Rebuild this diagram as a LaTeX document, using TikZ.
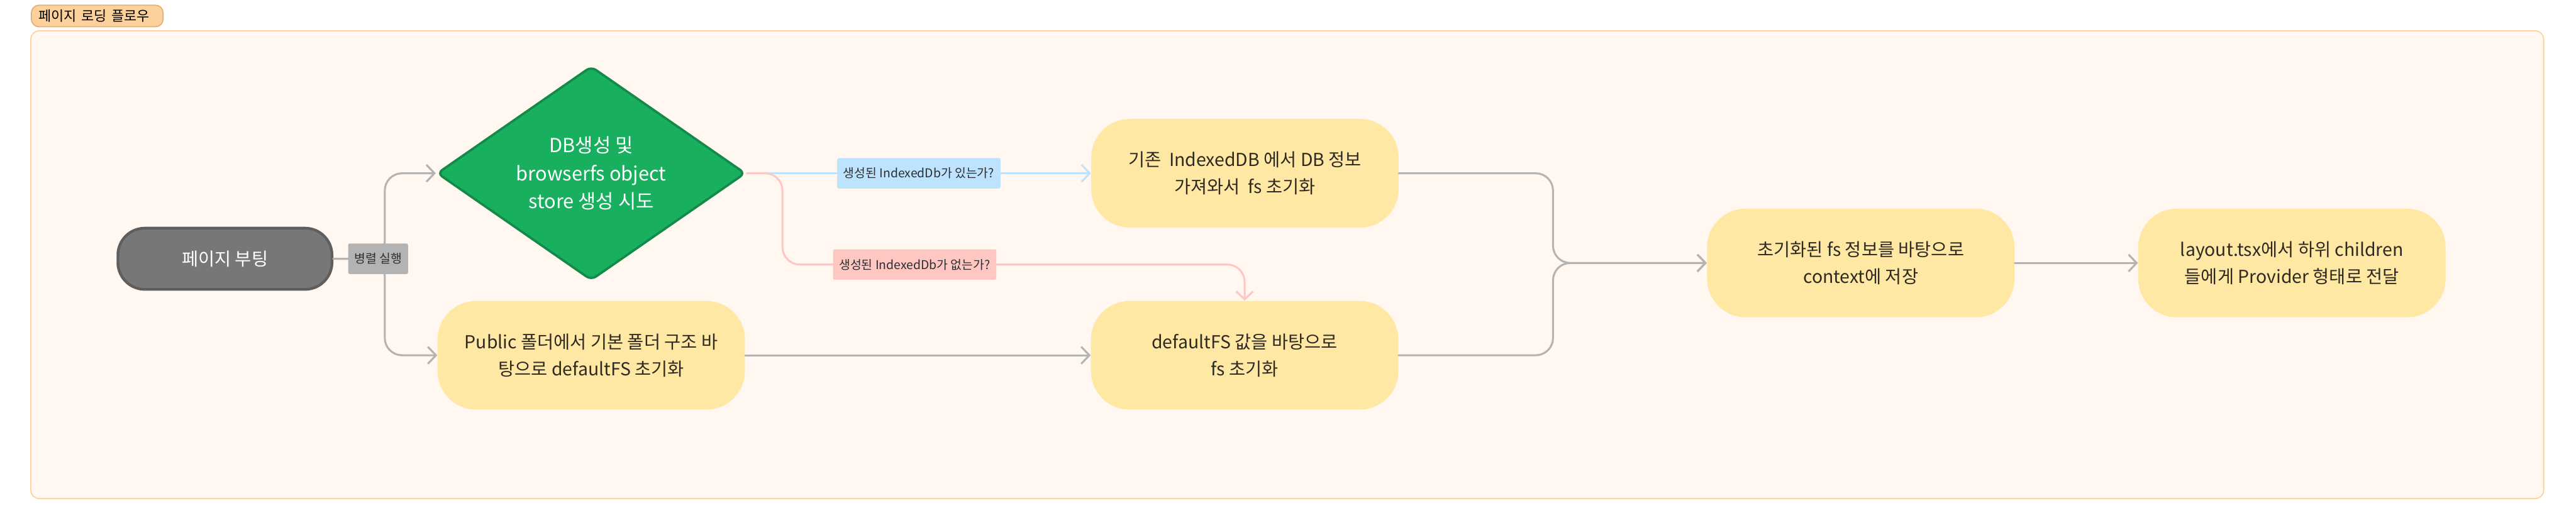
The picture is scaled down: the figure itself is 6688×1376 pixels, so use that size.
\documentclass[tikz,border=0pt]{standalone}
\usepackage{fontspec}
\setmainfont{Noto Sans CJK KR}
\usepackage{tikz}
\usetikzlibrary{arrows.meta,positioning,shapes.geometric,backgrounds}

\definecolor{panelfill}{HTML}{FFF7F0}
\definecolor{paneldraw}{HTML}{FDD49E}
\definecolor{tagfill}{HTML}{FCD19C}
\definecolor{tagdraw}{HTML}{DDB37F}
\definecolor{procfill}{HTML}{FFE8A3}
\definecolor{proctext}{HTML}{2E2A22}
\definecolor{bootfill}{HTML}{777777}
\definecolor{bootdraw}{HTML}{5E5E5E}
\definecolor{dbfill}{HTML}{18AF5E}
\definecolor{dbdraw}{HTML}{138A49}
\definecolor{wire}{HTML}{B3B3B3}
\definecolor{yeswire}{HTML}{BDE3FF}
\definecolor{nowire}{HTML}{FFC7C2}
\definecolor{lbltext}{HTML}{2B2F33}

\begin{document}
\begin{tikzpicture}[
  x=0.1mm, y=-0.1mm,
  font=\fontsize{13.2pt}{20.2pt}\selectfont,
  proc/.style  ={rectangle, rounded corners=10mm, fill=procfill, text=proctext,
                 minimum width=79.8mm, minimum height=28.2mm, inner sep=0pt, align=center},
  start/.style ={rectangle, rounded corners=7mm, draw=bootdraw, line width=0.7mm, fill=bootfill,
                 text=white, minimum width=55.6mm, minimum height=15.9mm, align=center},
  decide/.style={diamond, aspect=1.43, draw=dbdraw, line width=0.6mm, fill=dbfill, text=white,
                 minimum width=80.1mm, minimum height=55.6mm, inner sep=0pt, align=center,
                 rounded corners=1.5mm, font=\fontsize{14.3pt}{20.5pt}\selectfont},
  flow/.style  ={-{Straight Barb[length=2.1mm,width=4.4mm]}, draw=wire, line width=0.5mm,
                 line cap=round, rounded corners=4.5mm},
  lbl/.style   ={font=\fontsize{9pt}{10pt}\selectfont, text=lbltext, rounded corners=0.4mm,
                 inner xsep=1.6mm, inner ysep=0pt, minimum height=7.9mm}
]
\useasboundingbox (0,0) rectangle (6688,1376);

\node[anchor=north west, fill=tagfill, draw=tagdraw, line width=0.3mm, rounded corners=2mm,
      text width=30.4mm, inner xsep=1.9mm, minimum height=5.6mm, align=left,
      font=\fontsize{10.2pt}{12pt}\selectfont] (title) at (80,12) {페이지 로딩 플로우};

\node[start] (boot) at (584,672) {페이지 부팅};
\node[decide] (mkdb) at (1535,450) {DB생성 및\\browserfs object\\store 생성 시도};
\node[proc, below=5mm of mkdb] (pub) {Public 폴더에서 기본 폴더 구조 바\\탕으로 defaultFS 초기화};
\node[proc, right=89.4mm of mkdb] (kbox) {기존\ \ IndexedDB 에서 DB 정보\\가져와서\ \ fs 초기화};
\node[proc, right=89.7mm of pub] (dfs) {defaultFS 값을 바탕으로\\fs 초기화};
\node[proc] (init) at (4831,683) {초기화된 fs 정보를 바탕으로\\context에 저장};
\node[proc, right=32mm of init] (layout) {layout.tsx에서 하위 children\\들에게 Provider 형태로 전달};

\coordinate (fork) at (999,672);
\coordinate (merge) at (4032,683);

\draw[flow] (boot.east) -- (fork) |- (mkdb.west);
\draw[flow] (boot.east) -- node[lbl, fill=wire, pos=0.87]{병렬 실행} (fork) |- (pub.west);
\draw[flow, draw=yeswire] (mkdb.east) -- node[lbl, fill=yeswire]{생성된 IndexedDb가 있는가?} (kbox.west);
\draw[flow, draw=nowire] (mkdb.east) -- ++(93,0) -- ++(0,237)
  -| node[lbl, fill=nowire, pos=0.143]{생성된 IndexedDb가 없는가?} (dfs.north);
\draw[flow] (pub) -- (dfs);
\draw[flow] (kbox.east) -| (merge) -- (init.west);
\draw[flow] (dfs.east) -| (merge) -- (init.west);
\draw[flow] (init) -- (layout);

\begin{scope}[on background layer]
  \draw[fill=panelfill, draw=paneldraw, line width=0.3mm, rounded corners=2.2mm]
    (80,80) rectangle (6604,1295);
\end{scope}
\end{tikzpicture}
\end{document}
